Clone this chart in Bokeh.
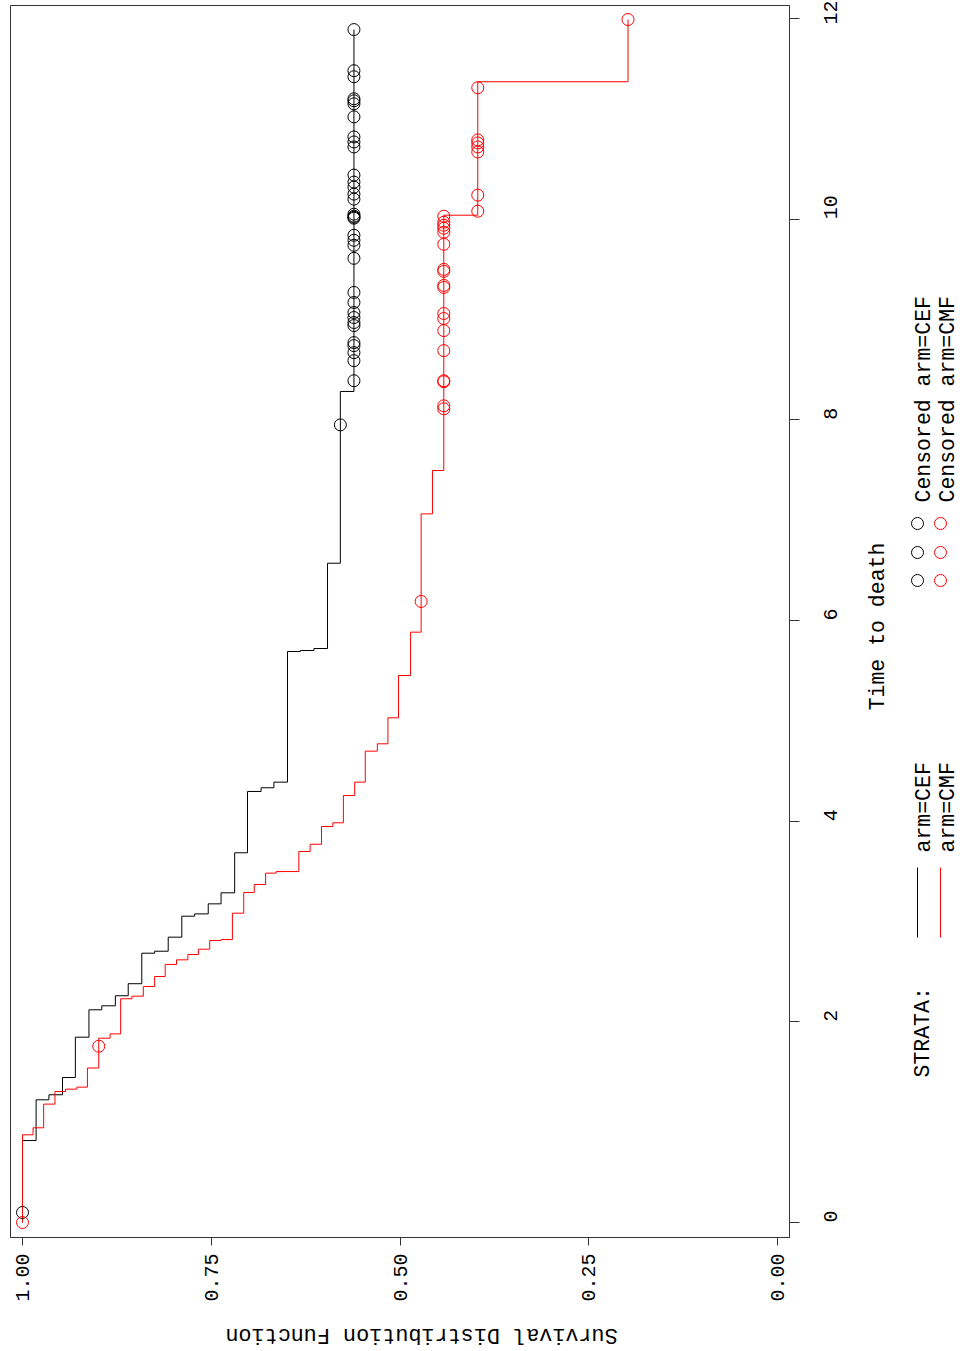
import math
import numpy as np
from bokeh.plotting import figure
from bokeh.models import Range1d, FixedTicker, NumeralTickFormatter
from bokeh.layouts import row, column
from bokeh.core.properties import value
from bokeh.embed import file_html
from bokeh.resources import INLINE

FONT = "Liberation Mono"

# ---------------- data ----------------
survival_ticks = [0.0, 0.25, 0.5, 0.75, 1.0]
time_ticks = [0, 2, 4, 6, 8, 10, 12]

# arm=CEF : event times and survival after each event
cef_event_time = [0.817, 1.223, 1.273, 1.445, 1.847, 2.120, 2.160, 2.260, 2.380, 2.684,
                  2.704, 2.844, 3.053, 3.076, 3.176, 3.286, 3.685, 4.296, 4.333, 4.389,
                  5.691, 5.701, 5.721, 6.571, 8.283]
cef_surv = [0.982, 0.965, 0.947, 0.930, 0.912, 0.895, 0.877, 0.860, 0.842, 0.825,
            0.807, 0.789, 0.772, 0.754, 0.737, 0.719, 0.702, 0.684, 0.667, 0.649,
            0.632, 0.614, 0.596, 0.579, 0.561]
cef_censor_time = [0.10, 7.95, 8.39, 8.59, 8.67, 8.74, 8.77, 8.94, 8.97, 9.02, 9.07, 9.17,
                   9.27, 9.61, 9.74, 9.79, 9.84, 10.01, 10.02, 10.03, 10.05, 10.20, 10.25,
                   10.32, 10.37, 10.44, 10.72, 10.77, 10.82, 11.02, 11.15, 11.18, 11.20,
                   11.42, 11.48, 11.89]

# arm=CMF
cmf_event_time = [0.874, 0.944, 1.180, 1.306, 1.329, 1.349, 1.540, 1.837, 1.880, 2.230,
                  2.256, 2.352, 2.452, 2.572, 2.618, 2.671, 2.724, 2.811, 2.820, 3.083,
                  3.289, 3.369, 3.482, 3.498, 3.698, 3.770, 3.947, 3.984, 4.256, 4.389,
                  4.698, 4.771, 5.030, 5.452, 5.884, 7.063, 7.495, 10.040, 11.370]
cmf_surv = [0.986, 0.972, 0.957, 0.943, 0.928, 0.914, 0.899, 0.884, 0.870, 0.855,
            0.840, 0.825, 0.811, 0.796, 0.781, 0.767, 0.752, 0.737, 0.722, 0.707,
            0.693, 0.678, 0.664, 0.634, 0.619, 0.604, 0.589, 0.575, 0.560, 0.546,
            0.530, 0.516, 0.502, 0.486, 0.472, 0.457, 0.442, 0.397, 0.198]
cmf_censor_time = [0.00, 1.757, 6.19, 8.11, 8.14, 8.38, 8.39, 8.69, 8.89, 9.01, 9.06,
                   9.32, 9.34, 9.48, 9.50, 9.75, 9.87, 9.91, 9.94, 9.97, 10.03, 10.08,
                   10.24, 10.67, 10.72, 10.76, 10.79, 11.31, 11.99]

strata_labels = ["arm=CEF", "arm=CMF"]
censor_labels = ["Censored arm=CEF", "Censored arm=CMF"]
strata_colors = ["#000000", "#ff0000"]
x_title = "Time to death"
y_title = "Survival Distribution Function"
legend_title = "STRATA:"


def step_path(times, surv, t_end):
    xs, ys = [1.0], [0.0]
    prev = 1.0
    for t, s in zip(times, surv):
        xs += [prev, s]
        ys += [t, t]
        prev = s
    xs.append(prev)
    ys.append(t_end)
    return xs, ys


def surv_at(times, surv, ts):
    idx = np.searchsorted(np.array(times), np.array(ts), side="right")
    arr = np.concatenate([[1.0], np.array(surv)])
    return list(arr[idx])


H_TOP = 1310      # main row height (frame 5..1237, tick labels below)
H_BOT = 40        # strip for the upside-down survival title

# ---------------- main plot ----------------
p = figure(width=862, height=H_TOP, output_backend="svg", toolbar_location=None,
           title=None,
           x_range=Range1d(1.0159, -0.0159), y_range=Range1d(-0.1495, 12.130),
           x_axis_location="below", y_axis_location="right",
           min_border_left=10, min_border_right=73, min_border_top=5,
           min_border_bottom=H_TOP - 1237)
p.grid.visible = False
p.outline_line_color = "#333333"
p.outline_line_width = 1
p.background_fill_color = "white"
p.border_fill_color = "white"

xa = p.xaxis[0]
xa.ticker = FixedTicker(ticks=survival_ticks)
xa.formatter = NumeralTickFormatter(format="0.00")
xa.major_label_orientation = math.pi / 2
xa.major_tick_out = 8
xa.major_tick_in = 0
xa.minor_tick_out = 0
xa.minor_tick_in = 0
xa.major_label_standoff = 8
xa.major_label_text_font = FONT
xa.major_label_text_font_size = "20px"
xa.major_label_text_color = "black"
xa.axis_line_color = "#333333"
xa.major_tick_line_color = "#333333"

ya = p.yaxis[0]
ya.ticker = FixedTicker(ticks=time_ticks)
ya.major_label_orientation = math.pi / 2
ya.major_tick_out = 10
ya.major_tick_in = 0
ya.minor_tick_out = 0
ya.minor_tick_in = 0
ya.major_label_standoff = 31
ya.major_label_text_font = FONT
ya.major_label_text_font_size = "20px"
ya.major_label_text_color = "black"
ya.axis_line_color = "#333333"
ya.major_tick_line_color = "#333333"

arms = [
    (cef_event_time, cef_surv, cef_censor_time),
    (cmf_event_time, cmf_surv, cmf_censor_time),
]
for (et, sv, ct), col in zip(arms, strata_colors):
    xs, ys = step_path(et, sv, max(ct))
    p.line(xs, ys, line_color=col, line_width=1)
for (et, sv, ct), col in zip(arms, strata_colors):
    p.scatter(surv_at(et, sv, ct), ct, marker="circle", size=12,
              fill_color=None, line_color=col, line_width=1)

# ---------------- legend / side panel (frame aligned with main frame) ----------------
q = figure(width=960 - 862, height=H_TOP, output_backend="svg", toolbar_location=None,
           title=None,
           x_range=Range1d(862, 960), y_range=Range1d(1237, 5),
           x_axis_location=None, y_axis_location=None,
           min_border_left=0, min_border_right=0, min_border_top=5,
           min_border_bottom=H_TOP - 1237)
q.grid.visible = False
q.outline_line_color = None
q.background_fill_color = "white"
q.border_fill_color = "white"

txt = dict(angle=math.pi / 2, text_baseline="middle",
           text_font=value(FONT), text_font_size="21.5px", text_color="black")
q.text(x=[877], y=[626], text=[x_title], text_align="center", **txt)
q.text(x=[922], y=[1077], text=[legend_title], text_align="left", **txt)

row_x_line = [917, 940]
row_x_text = [923, 947]
for i, col in enumerate(strata_colors):
    q.line([row_x_line[i], row_x_line[i]], [937, 867], line_color=col, line_width=1)
    q.text(x=[row_x_text[i]], y=[852], text=[strata_labels[i]], text_align="left", **txt)
    q.scatter([row_x_line[i]] * 3, [580, 552, 523], marker="circle", size=12,
              fill_color=None, line_color=col, line_width=1)
    q.text(x=[row_x_text[i]], y=[502], text=[censor_labels[i]], text_align="left", **txt)

# ---------------- bottom strip: upside-down survival axis title ----------------
r = figure(width=960, height=H_BOT, output_backend="svg", toolbar_location=None,
           title=None,
           x_range=Range1d(0, 960), y_range=Range1d(H_TOP + H_BOT, H_TOP),
           x_axis_location=None, y_axis_location=None,
           min_border_left=0, min_border_right=0, min_border_top=0,
           min_border_bottom=0)
r.grid.visible = False
r.outline_line_color = None
r.background_fill_color = "white"
r.border_fill_color = "white"
r.text(x=[421], y=[1333.5], text=[y_title], angle=math.pi, text_align="center",
       text_baseline="middle", text_font=value(FONT), text_font_size="21.8px",
       text_color="black")

layout = column(row(p, q, spacing=0), r, spacing=0)
open("out.html", "w").write(file_html(layout, INLINE))
